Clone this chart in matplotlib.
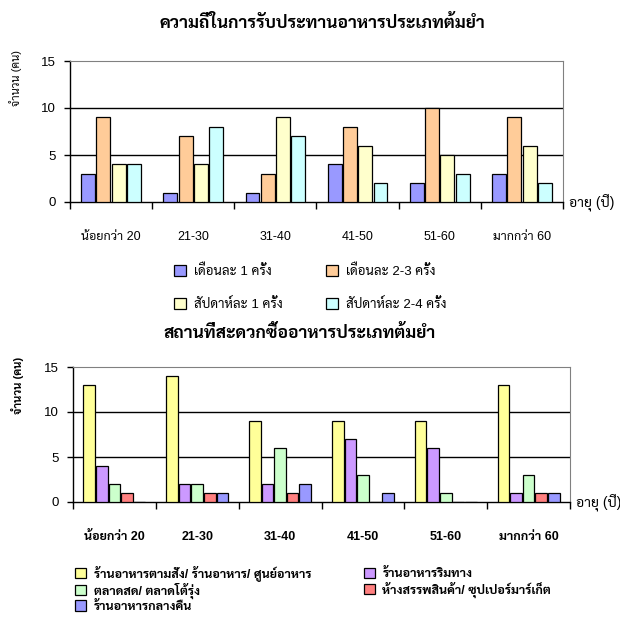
import numpy as np
import matplotlib
matplotlib.use("Agg")
import matplotlib.pyplot as plt
from matplotlib import font_manager

# กลุ่มอายุ
age_groups = ["น้อยกว่า 20", "21-30", "31-40", "41-50", "51-60", "มากกว่า 60"]

# ความถี่ในการรับประทาน (คน)
freq_labels = ["เดือนละ 1 ครั้ง", "เดือนละ 2-3 ครั้ง", "สัปดาห์ละ 1 ครั้ง", "สัปดาห์ละ 2-4 ครั้ง"]
month_1 = [3, 1, 1, 4, 2, 3]
month_2_3 = [9, 7, 3, 8, 10, 9]
week_1 = [4, 4, 9, 6, 5, 6]
week_2_4 = [4, 8, 7, 2, 3, 2]

# สถานที่ซื้อ (คน)
place_labels = ["ร้านอาหารตามสั่ง/ ร้านอาหาร/ ศูนย์อาหาร", "ร้านอาหารริมทาง",
                "ตลาดสด/ ตลาดโต้รุ่ง", "ห้างสรรพสินค้า/ ซุปเปอร์มาร์เก็ต",
                "ร้านอาหารกลางคืน"]
food_shop = [13, 14, 9, 9, 9, 13]
street_food = [4, 2, 2, 7, 6, 1]
market = [2, 2, 6, 3, 1, 3]
mall = [1, 1, 1, 0, 0, 1]
night_food = [0, 1, 2, 1, 0, 1]

# ฟอนต์ไทย - เอาตัวแรกที่มีตัวหนาด้วย
fonts = font_manager.fontManager.ttflist
with_bold = {f.name for f in fonts if f.weight in (700, "bold")}
installed = {f.name for f in fonts}
prefs = ["Sarabun", "Noto Sans Thai", "Anuphan", "Bai Jamjuree"]
thai = next((n for n in prefs if n in with_bold),
            next((n for n in prefs if n in installed), "DejaVu Sans"))
plt.rcParams["font.family"] = ["Liberation Sans", thai]
plt.rcParams["font.size"] = 9


def draw_chart(ax, series, colors, width, step, label_weight):
	x = np.arange(len(age_groups))
	n = len(series)
	bars = []
	for i, (vals, c) in enumerate(zip(series, colors)):
		off = (i - (n - 1) / 2) * step
		bars.append(ax.bar(x + off, vals, width, color=c, edgecolor="black",
		                   linewidth=0.9, zorder=3))
	ax.set_xlim(-0.5, len(age_groups) - 0.5)
	ax.set_ylim(0, 15)
	ax.set_yticks([0, 5, 10, 15])
	ax.yaxis.grid(True, color="black", linewidth=1)
	gl = ax.get_ygridlines()
	gl[0].set_visible(False)
	gl[-1].set_visible(False)
	# ขีดแบ่งกลุ่มที่แกน x, ชื่อกลุ่มอยู่ตรงกลาง
	ax.set_xticks(np.arange(len(age_groups) + 1) - 0.5)
	ax.set_xticklabels([])
	ax.set_xticks(x, minor=True)
	ax.set_xticklabels(age_groups, minor=True, fontweight=label_weight)
	ax.tick_params(axis="x", which="major", length=5, direction="out", width=1)
	ax.tick_params(axis="x", which="minor", length=0, pad=21)
	ax.tick_params(axis="y", length=4, width=1, pad=6, labelsize=9.5)
	for s in ["top", "right"]:
		ax.spines[s].set_color("#808080")
	ax.spines["left"].set_linewidth(1)
	ax.spines["bottom"].set_linewidth(1)
	ax.text(1.012, 0, "อายุ (ปี)", transform=ax.transAxes, va="center", ha="left",
	        fontsize=10)
	return bars


fig = plt.figure(figsize=(6.2, 6.28), dpi=100)

# กราฟที่ 1
ax1 = fig.add_axes([70 / 620, 1 - 202 / 628, 493 / 620, 141 / 628])
b1 = draw_chart(ax1, [month_1, month_2_3, week_1, week_2_4],
                ["#9999FF", "#FFCC99", "#FFFFCC", "#CCFFFF"], 0.17, 0.186, "normal")
fig.text(322 / 620, 1 - 22 / 628, "ความถี่ในการรับประทานอาหารประเภทต้มยำ",
         ha="center", va="center", fontsize=12.5, fontweight="bold")
fig.text(16 / 620, 1 - 78 / 628, "จำนวน (คน)", rotation=90, ha="center",
         va="center", fontsize=8)
# แถวบน: เดือนละ, แถวล่าง: สัปดาห์ละ
order1 = [0, 2, 1, 3]
fig.legend([b1[i] for i in order1], [freq_labels[i] for i in order1], ncol=2,
           loc="upper left", bbox_to_anchor=(174 / 620, 1 - 264 / 628),
           frameon=False, borderpad=0, borderaxespad=0, handlelength=0.9,
           handleheight=0.9, handletextpad=0.6, labelspacing=1.55,
           columnspacing=3.3, fontsize=9.5)

# กราฟที่ 2
ax2 = fig.add_axes([73 / 620, 1 - 502 / 628, 497 / 620, 135 / 628])
b2 = draw_chart(ax2, [food_shop, street_food, market, mall, night_food],
                ["#FFFF99", "#CC99FF", "#CCFFCC", "#FF8080", "#9999FF"],
                0.14, 0.152, "bold")
fig.text(300 / 620, 1 - 332 / 628, "สถานที่สะดวกซื้ออาหารประเภทต้มยำ",
         ha="center", va="center", fontsize=12.5, fontweight="bold")
fig.text(18 / 620, 1 - 385 / 628, "จำนวน (คน)", rotation=90, ha="center",
         va="center", fontsize=8, fontweight="bold")
# เรียงให้อ่านเป็นแถว: คอลัมน์ซ้าย 1,3,5 คอลัมน์ขวา 2,4
order2 = [0, 2, 4, 1, 3]
fig.legend([b2[i] for i in order2], [place_labels[i] for i in order2], ncol=2,
           loc="upper left", bbox_to_anchor=(75 / 620, 1 - 565 / 628),
           frameon=False, borderpad=0, borderaxespad=0, handlelength=0.9,
           handleheight=0.9, handletextpad=0.6, labelspacing=0.12,
           columnspacing=4.2, prop={"size": 9, "weight": "bold"})

fig.savefig("out.png", dpi=100)
